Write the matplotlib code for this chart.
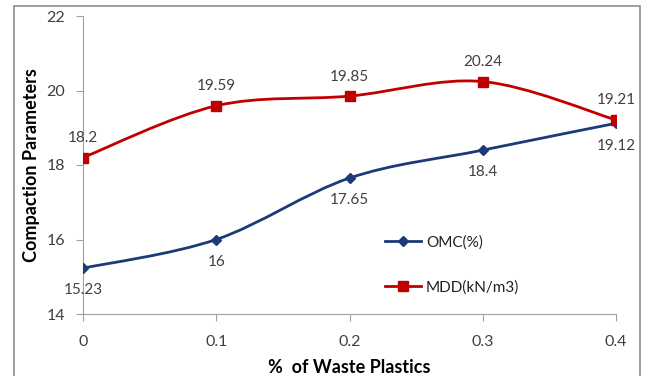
import numpy as np
import matplotlib.pyplot as plt
from matplotlib.path import Path
from matplotlib.patches import PathPatch, Rectangle
from matplotlib.lines import Line2D

plt.rcParams['font.family'] = ['Lato', 'DejaVu Sans']

waste = [0, 0.1, 0.2, 0.3, 0.4]
omc = [15.23, 16, 17.65, 18.4, 19.12]
mdd = [18.2, 19.59, 19.85, 20.24, 19.21]
omc_lbl = ["15.23", "16", "17.65", "18.4", "19.12"]
mdd_lbl = ["18.2", "19.59", "19.85", "20.24", "19.21"]

navy = '#1c3a78'
red = '#c00000'
grey = '#404040'


def smooth_path(x, y):
    # excel style smoothed line: bezier segments through the points
    p = np.column_stack([x, y]).astype(float)
    n = len(p)
    verts = [p[0]]
    codes = [Path.MOVETO]
    for i in range(n - 1):
        p0 = p[i - 1] if i > 0 else p[i]
        p3 = p[i + 2] if i + 2 < n else p[i + 1]
        c1 = p[i] + (p[i + 1] - p0) / 6
        c2 = p[i + 1] - (p3 - p[i]) / 6
        verts += [c1, c2, p[i + 1]]
        codes += [Path.CURVE4] * 3
    return Path(verts, codes)


fig = plt.figure(figsize=(6.48, 3.76), dpi=100)
fig.patches.append(Rectangle((14 / 648, -0.01), 626 / 648, 1 - 6 / 376 + 0.01,
                             transform=fig.transFigure, fill=False,
                             edgecolor='#8c8c8c', lw=1.2))
ax = fig.add_axes([83 / 648, 1 - 314 / 376, 533 / 648, 298 / 376])

ax.add_patch(PathPatch(smooth_path(waste, omc), fill=False, edgecolor=navy, lw=2, zorder=2))
ax.add_patch(PathPatch(smooth_path(waste, mdd), fill=False, edgecolor=red, lw=2, zorder=2))
ax.plot(waste, omc, ls='none', marker='D', ms=5, color=navy, zorder=3)
ax.plot(waste, mdd, ls='none', marker='s', ms=7.5, color=red, zorder=3)

for i in range(len(waste)):
    ax.annotate(omc_lbl[i], (waste[i], omc[i]), xytext=(0, -11), textcoords='offset points',
                ha='center', va='top', fontsize=11, color=grey)
    ax.annotate(mdd_lbl[i], (waste[i], mdd[i]), xytext=(0, 9), textcoords='offset points',
                ha='center', va='bottom', fontsize=11, color=grey)

ax.set_xlim(0, 0.4)
ax.set_ylim(14, 22)
ax.set_xticks(waste)
ax.set_xticklabels(["0", "0.1", "0.2", "0.3", "0.4"])
ax.set_yticks([14, 16, 18, 20, 22])
for s in ['top', 'right']:
    ax.spines[s].set_visible(False)
for s in ['left', 'bottom']:
    ax.spines[s].set_color('#a0a0a0')
ax.tick_params(axis='both', direction='out', length=5, color='#a0a0a0',
               labelsize=11.5, labelcolor=grey)
ax.tick_params(axis='x', pad=10)
ax.tick_params(axis='y', pad=8)

ax.set_xlabel("%  of Waste Plastics", fontsize=13, fontweight='bold', color='#000000', labelpad=7)
ax.set_ylabel("Compaction Parameters", fontsize=13, fontweight='bold', color='#000000',
              va='center')
ax.yaxis.set_label_coords(-0.096, 0.5)

handles = [Line2D([], [], color=navy, lw=2, marker='D', ms=5),
           Line2D([], [], color=red, lw=2, marker='s', ms=7.5)]
ax.legend(handles, ["OMC(%)", "MDD(kN/m3)"], loc='upper left', bbox_to_anchor=(0.54, 0.31),
          frameon=False, fontsize=11, handlelength=2.4, handletextpad=0.3, labelspacing=2.0,
          labelcolor='#202020')

fig.savefig('out.png', dpi=100)
